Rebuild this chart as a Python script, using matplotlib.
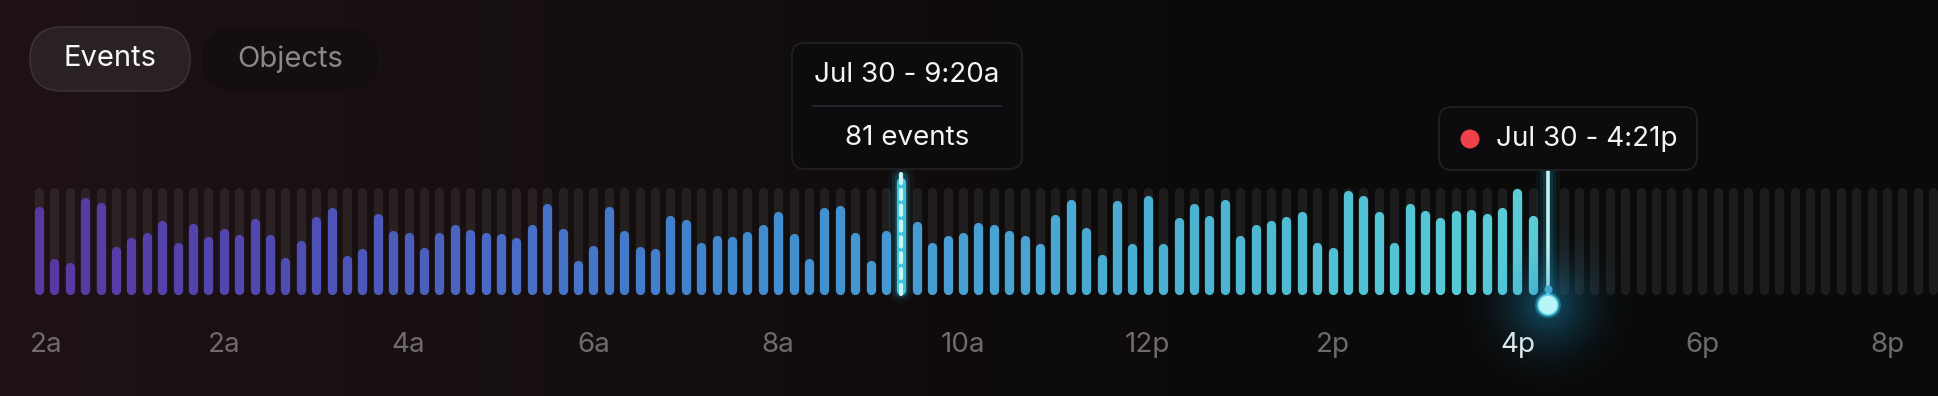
import numpy as np
import matplotlib
matplotlib.use("Agg")
from matplotlib import pyplot as plt
from matplotlib.patches import FancyBboxPatch, Circle
from matplotlib.colors import LinearSegmentedColormap, to_rgb

# events per 10-minute slot, Jul 30 from 00:00
events = [82, 34, 30, 90, 86, 45, 53, 58, 69, 49, 66, 54, 62, 56, 71, 56, 35, 51, 73, 81,
          37, 43, 76, 60, 58, 44, 58, 65, 61, 58, 57, 53, 65, 85, 62, 32, 46, 82, 60, 45,
          43, 74, 70, 49, 55, 54, 59, 65, 77, 57, 34, 81, 83, 58, 32, 60, 81, 68, 49, 55,
          58, 67, 65, 60, 55, 48, 75, 89, 63, 38, 88, 48, 92, 48, 72, 85, 74, 89, 55, 65,
          69, 73, 77, 49, 44, 97, 92, 77, 49, 85, 78, 72, 78, 79, 76, 81, 99, 74]
n_slots = 124
tick_slots = [0, 12, 24, 36, 48, 60, 72, 84, 96, 108, 120]
tick_labels = ["2a", "2a", "4a", "6a", "8a", "10a", "12p", "2p", "4p", "6p", "8p"]
hover_slot = 56
hover_title = "Jul 30 - 9:20a"
now_slot = 98.0
now_title = "Jul 30 - 4:21p"

W, H = 1938, 396
fig = plt.figure(figsize=(W / 100, H / 100), dpi=100)

# background gradient
bg = fig.add_axes([0, 0, 1, 1])
bg.set_axis_off()
stops = [(0.0, "#1e1215"), (0.35, "#140e0f"), (0.6, "#0c0a0a"), (1.0, "#0a0a0a")]
bg_cmap = LinearSegmentedColormap.from_list("bg", stops)
bg.imshow(np.linspace(0, 1, 400)[None, :], cmap=bg_cmap, aspect="auto", extent=[0, 1, 0, 1])
bg.set_xlim(0, 1); bg.set_ylim(0, 1)

# data axes: 15.4 px per slot, first slot centre at 39 px; 100 events = 108 px
ax = fig.add_axes([0, 0, 1, 1])
ax.patch.set_alpha(0)
ax.set_axis_off()
pxx, pxy = 15.4, 1.08
ax.set_xlim(-39 / pxx, (W - 39) / pxx)
ax.set_ylim(-(H - 295) / pxy, 295 / pxy)
bar_lw = 9.3 * 0.72
cap = 4.65 / pxy

slots = np.arange(n_slots)
slots = slots[slots != int(round(now_slot))]
tr = ax.vlines(slots, cap, 100 - cap, colors="white", alpha=0.075, linewidth=bar_lw)
tr.set_capstyle("round")

bar_cmap = LinearSegmentedColormap.from_list("bars", [
    (0.0, "#5a37a2"), (0.15, "#5049b0"), (0.3, "#4a68c4"), (0.45, "#3f86ce"),
    (0.6, "#479dd2"), (0.78, "#4cb3d2"), (0.9, "#53c3d5"), (1.0, "#5bcdd8")])
idx = np.arange(len(events))
vals = np.array(events, dtype=float)
cols = [bar_cmap(i / (len(events) - 1)) for i in idx]
mask = idx != hover_slot
bc = ax.vlines(idx[mask], cap, vals[mask] - cap, colors=[c for c, m in zip(cols, mask) if m],
               linewidth=bar_lw)
bc.set_capstyle("round")

# hovered slot
for lw, a in [(26, 0.06), (18, 0.1), (13, 0.18)]:
    ax.plot([hover_slot, hover_slot], [cap, 108], color="#2fb6e0", lw=lw * 0.72, alpha=a,
            solid_capstyle="round")
ax.plot([hover_slot, hover_slot], [cap, 105], color="#3ec3dc", lw=bar_lw, solid_capstyle="round")
ax.plot([hover_slot, hover_slot], [1, 113.5], color="#c9f6f4", lw=3.0,
        linestyle=(0, (2.2, 1.6)), dash_capstyle="round")

# current time cursor
for lw, a in [(24, 0.05), (16, 0.09), (10, 0.16)]:
    ax.plot([now_slot, now_slot], [-9, 116], color="#1aa8d8", lw=lw * 0.72, alpha=a)
ax.plot([now_slot, now_slot], [-9, 116], color="#c6f3f2", lw=2.6)
ax.plot([now_slot], [5.6], "o", ms=8 * 0.72, color="#55b9dc", mec="none")

# x labels
for s, lab in zip(tick_slots, tick_labels):
    c = "#f2f2f2" if lab == "4p" else "#6f6b6b"
    ha = "left" if s == 0 else "center"
    xs = s - 0.58 if s == 0 else s
    ax.text(xs, -46.3, lab, ha=ha, va="center", fontsize=20, color=c, family="Inter")

# UI overlay in pixels
ui = fig.add_axes([0, 0, 1, 1])
ui.patch.set_alpha(0)
ui.set_axis_off()
ui.set_xlim(0, W)
ui.set_ylim(H, 0)

# glow round the cursor knob
gx, gy, gr = 1548, 305, 95
yy, xx = np.mgrid[-gr:gr + 1, -gr:gr + 1]
d = np.sqrt(xx ** 2 + yy ** 2) / gr
glow = np.zeros((2 * gr + 1, 2 * gr + 1, 4))
glow[..., :3] = to_rgb("#1a8fc0")
glow[..., 3] = np.clip(1 - d, 0, 1) ** 2.2 * 0.55
ui.imshow(glow, extent=[gx - gr, gx + gr, gy + gr, gy - gr], zorder=1, interpolation="bilinear")
ui.add_patch(Circle((gx, gy), 13, color="#2fc6e8", alpha=0.35, zorder=2, lw=0))
ui.add_patch(Circle((gx, gy), 10, facecolor="#b8f4f5", edgecolor="#5fd3e6", lw=1.2, zorder=3))

# toggle buttons
ui.add_patch(FancyBboxPatch((30, 27), 160, 64, boxstyle="round,pad=0,rounding_size=32",
                            facecolor="#2a2123", edgecolor="#3a3133", lw=1.2, zorder=4))
ui.add_patch(FancyBboxPatch((201, 27), 179, 64, boxstyle="round,pad=0,rounding_size=32",
                            facecolor="#150e0f", edgecolor="#1a1213", lw=1.0, zorder=4))
ui.text(110, 59, "Events", ha="center", va="center", fontsize=21, color="#f7f7f7",
        family="Inter", zorder=5)
ui.text(290.5, 59, "Objects", ha="center", va="center", fontsize=21, color="#8b8687",
        family="Inter", zorder=5)

# hover tooltip
ui.add_patch(FancyBboxPatch((792, 43), 230, 126, boxstyle="round,pad=0,rounding_size=13",
                            facecolor="#0c0c0e", edgecolor="#222226", lw=1.2, zorder=4))
ui.plot([813, 1001], [106, 106], color="#2a2a2e", lw=1.2, zorder=5)
ui.text(907, 75, hover_title, ha="center", va="center", fontsize=20, color="#f4f4f4",
        family="Inter", zorder=5)
ui.text(907, 138, f"{events[hover_slot]} events", ha="center", va="center", fontsize=20,
        color="#f4f4f4", family="Inter", zorder=5)

# now tooltip
ui.add_patch(FancyBboxPatch((1439, 107), 258, 63, boxstyle="round,pad=0,rounding_size=13",
                            facecolor="#0c0c0e", edgecolor="#222226", lw=1.2, zorder=4))
ui.add_patch(Circle((1470, 139), 9.5, color="#f0404a", zorder=5, lw=0))
ui.text(1496, 139, now_title, ha="left", va="center", fontsize=20, color="#f4f4f4",
        family="Inter", zorder=5)

fig.savefig("out.png", dpi=100)
